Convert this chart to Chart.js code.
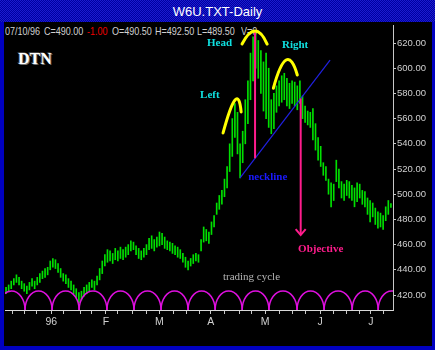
<!DOCTYPE html>
<html>
<head>
<meta charset="utf-8">
<script src="https://cdn.jsdelivr.net/npm/chart.js@4.4.1/dist/chart.umd.min.js"></script>
<style>
  html, body { margin: 0; padding: 0; }
  body { width: 435px; height: 350px; background: #0000c0; position: relative; overflow: hidden; }
  #titlebar {
    position: absolute; left: 0; top: 0; width: 435px; height: 22px;
    background: repeating-conic-gradient(#0000a0 0 25%, #1c1cd0 0 50%) 0 0 / 2px 2px;
    color: #fff; font: 13px "Liberation Sans", Arial, sans-serif; line-height: 24px; text-align: center;
  }
  #panel { position: absolute; left: 4px; top: 22px; width: 428px; height: 324px; background: #000; }
  .hdr { position: absolute; top: 25px; font: 11px "Liberation Sans", Arial, sans-serif; color: #d0d0d0; line-height: 12px;
         white-space: pre; transform: scaleX(0.82); transform-origin: 0 0; }
  #dtn { position: absolute; left: 18px; top: 50px; font: bold 16px "Liberation Serif", serif; color: #fff; text-shadow: 1px 1px 0 #707070, -1px -1px 0 #404040; }
  canvas { position: absolute; left: 0; top: 0; }
</style>
</head>
<body>
<div id="titlebar">W6U.TXT-Daily</div>
<div id="panel"></div>
<div class="hdr" style="left:5px">07/10/96</div>
<div class="hdr" style="left:44px">C=490.00</div>
<div class="hdr" style="left:87px;color:#f00000">-1.00</div>
<div class="hdr" style="left:112px">O=490.50</div>
<div class="hdr" style="left:155px">H=492.50</div>
<div class="hdr" style="left:197px">L=489.50</div>
<div class="hdr" style="left:241px">V=0</div>
<div id="dtn">DTN</div>
<canvas id="chart" width="435" height="350"></canvas>
<script>
// daily bars, Dec 95 - 07/10/96 (low / high)
const lows = [
  421, 423, 425, 428, 430, 428, 425, 423, 421, 424,
  427, 425, 428, 430, 433, 434, 436, 440, 442, 441,
  438, 434, 431, 429, 426, 424, 421, 418, 414, 416,
  419, 421, 423, 426, 424, 428, 432, 437, 443, 446,
  447, 445, 448, 447, 449, 448, 450, 452, 455, 456,
  452, 449, 448, 450, 452, 456, 457, 455, 458, 459,
  460, 457, 456, 455, 453, 452, 450, 449, 446, 442,
  440, 443, 445, 447, 446, 455, 462, 463, 461, 468,
  474, 484, 488, 492, 498, 505, 518, 530, 545, 532,
  513, 525, 540, 556, 575, 590, 600, 592, 580, 566,
  560, 553, 548, 552, 565, 570, 573, 575, 570, 568,
  572, 570, 567, 572, 560, 557, 555, 553, 543, 535,
  527, 522, 515, 511, 500, 490, 495, 510, 505, 497,
  495, 499, 497, 495, 490, 494, 497, 492, 490, 484,
  478, 482, 476, 473, 474, 472, 479, 484, 489.5
];
const highs = [
  426, 428, 431, 433, 436, 434, 431, 429, 427, 430,
  433, 431, 434, 437, 439, 441, 442, 447, 449, 448,
  445, 441, 437, 436, 433, 431, 428, 425, 422, 423,
  426, 428, 430, 432, 431, 435, 441, 447, 452, 456,
  455, 453, 457, 455, 458, 456, 458, 460, 463, 462,
  459, 457, 455, 457, 460, 465, 467, 464, 466, 470,
  469, 466, 463, 462, 461, 459, 458, 456, 453, 450,
  447, 449, 452, 453, 452, 464, 474, 472, 470, 478,
  483, 493, 499, 503, 512, 522, 540, 560, 572, 565,
  540, 550, 575, 590, 612, 625, 629, 622, 614, 605,
  612, 600, 575, 580, 586, 590, 594, 596, 592, 588,
  590, 589, 586, 590, 578, 570, 566, 565, 568, 556,
  545, 538, 525, 522, 512, 509, 508, 527, 520, 510,
  508, 511, 510, 507, 505, 509, 508, 503, 502, 497,
  495, 493, 489, 486, 485, 483, 490, 495, 492.5
];

const yTicks = [420, 440, 460, 480, 500, 520, 540, 560, 580, 600, 620];
const xTicks = [2.6, 7.2, 11.7, 17.4, 22, 28.6, 33, 38.4, 43, 48.5, 54, 59, 64.3, 69.4, 74.2,
                78.7, 84, 89.7, 94.5, 99.6, 105, 110, 115, 120.8, 126, 131, 136, 140.3, 145];
const monthTicks = [17.4, 38.4, 59, 78.7, 99.6, 120.8, 140.3];
const monthLabels = ['96', 'F', 'M', 'A', 'M', 'J', 'J'];

// trading cycle lows (bar index)
const cycleLows = [-3.1, 7.3, 17.7, 28.1, 38.8, 49.2, 59.6, 70, 80.4, 90.8, 101.1, 111.9, 122.3, 133.1, 143.1, 153.5];
const cycleTop = 423.2;

// head & shoulders markup, in (bar index, price)
const neckline = [[90.0, 512.9], [124.6, 606.5]];
const headDrop = [[95.75, 630.3], [95.75, 528.5]];
const objective = [[113.3, 576.0], [113.3, 467.6]];
const shoulderArcs = [
  [[83.45, 548.6], [88.06, 574.8], [90.4, 565.3]],
  [[90.75, 619.2], [95.75, 629.5], [100.4, 619.2]],
  [[102.8, 584.1], [107.7, 606.5], [112.0, 594.6]]
];
const notes = [
  { text: 'Head', at: [77.3, 620.0], color: '#10e0e0' },
  { text: 'Right', at: [106.1, 618.4], color: '#10e0e0' },
  { text: 'Left', at: [74.6, 578.7], color: '#10e0e0' },
  { text: 'neckline', at: [93.1, 513.7], color: '#1a1aff' },
  { text: 'Objective', at: [112.3, 456.5], color: '#ff1c8c' },
  { text: 'trading cycle', at: [83.4, 434.3], color: '#b4b4b4', weight: 'normal' }
];

const bars = lows.map((lo, i) => ({ x: i, y: [lo, highs[i]] }));

const markup = {
  id: 'markup',
  afterDatasetsDraw(chart) {
    const { ctx, chartArea: a, scales: { x, y } } = chart;
    const px = p => [x.getPixelForValue(p[0]), y.getPixelForValue(p[1])];
    ctx.save();
    ctx.beginPath();
    ctx.rect(a.left, a.top, a.right - a.left, a.bottom - a.top);
    ctx.clip();

    // trading cycle arcs
    const base = y.getPixelForValue(y.min);
    const top = y.getPixelForValue(cycleTop);
    ctx.strokeStyle = '#e010e0';
    ctx.lineWidth = 1.5;
    for (let k = 0; k < cycleLows.length - 1; k++) {
      const x0 = x.getPixelForValue(cycleLows[k]);
      const x1 = x.getPixelForValue(cycleLows[k + 1]);
      ctx.beginPath();
      ctx.ellipse((x0 + x1) / 2, base, (x1 - x0) / 2, base - top, 0, Math.PI, 2 * Math.PI);
      ctx.stroke();
    }

    // neckline
    ctx.strokeStyle = '#2020e0';
    ctx.lineWidth = 1.2;
    ctx.beginPath();
    ctx.moveTo(...px(neckline[0]));
    ctx.lineTo(...px(neckline[1]));
    ctx.stroke();

    // pink measuring lines
    ctx.strokeStyle = '#ff1c8c';
    ctx.lineWidth = 2;
    [headDrop, objective].forEach(seg => {
      ctx.beginPath();
      ctx.moveTo(...px(seg[0]));
      ctx.lineTo(...px(seg[1]));
      ctx.stroke();
    });
    const [ax, ay] = px(objective[1]);
    ctx.beginPath();
    ctx.moveTo(ax - 5, ay - 6);
    ctx.lineTo(ax, ay);
    ctx.lineTo(ax + 5, ay - 6);
    ctx.stroke();

    // shoulder arcs
    ctx.strokeStyle = '#ffff00';
    ctx.lineWidth = 3;
    ctx.lineCap = 'round';
    shoulderArcs.forEach(([s, m, e]) => {
      const [sx, sy] = px(s), [mx, my] = px(m), [ex, ey] = px(e);
      ctx.beginPath();
      ctx.moveTo(sx, sy);
      ctx.quadraticCurveTo(2 * mx - (sx + ex) / 2, 2 * my - (sy + ey) / 2, ex, ey);
      ctx.stroke();
    });

    // labels
    ctx.textBaseline = 'middle';
    ctx.textAlign = 'left';
    notes.forEach(n => {
      ctx.font = (n.weight || 'bold') + ' 11px "Liberation Serif", serif';
      ctx.fillStyle = n.color;
      ctx.fillText(n.text, ...px(n.at));
    });
    ctx.restore();
  }
};

const axisFont = { family: '"Liberation Sans", Arial, sans-serif', size: 9.5 };

new Chart(document.getElementById('chart'), {
  type: 'bar',
  data: {
    datasets: [{
      data: bars,
      backgroundColor: '#00e000',
      borderWidth: 0,
      barThickness: 1,
      grouped: false
    }]
  },
  options: {
    responsive: false,
    animation: false,
    devicePixelRatio: 1,
    layout: { padding: { left: 5, top: 25, right: 0, bottom: 5 } },
    plugins: { legend: { display: false }, tooltip: { enabled: false } },
    scales: {
      x: {
        type: 'linear',
        min: -0.4,
        max: 148.8,
        offset: false,
        afterBuildTicks: s => { s.ticks = xTicks.map(v => ({ value: v })); },
        afterFit: s => { s.height = 35; },
        grid: { drawOnChartArea: false, offset: false, tickLength: 4, color: '#c8c8c8' },
        border: { color: '#d8d8d8' },
        ticks: {
          autoSkip: false, maxRotation: 0, color: '#d0d0d0', font: { ...axisFont, size: 10.5 }, padding: 2,
          callback: v => {
            const k = monthTicks.findIndex(m => Math.abs(m - v) < 0.01);
            return k >= 0 ? monthLabels[k] : '';
          }
        }
      },
      y: {
        position: 'right',
        min: 408.1,
        max: 634.3,
        afterBuildTicks: s => { s.ticks = yTicks.map(v => ({ value: v })); },
        afterFit: s => { s.width = 42; },
        grid: { drawOnChartArea: false, tickLength: 3, color: '#c8c8c8' },
        border: { color: '#c8c8c8' },
        ticks: { color: '#d0d0d0', font: axisFont, padding: 1, callback: v => v.toFixed(2) }
      }
    }
  },
  plugins: [markup]
});
</script>
</body>
</html>
